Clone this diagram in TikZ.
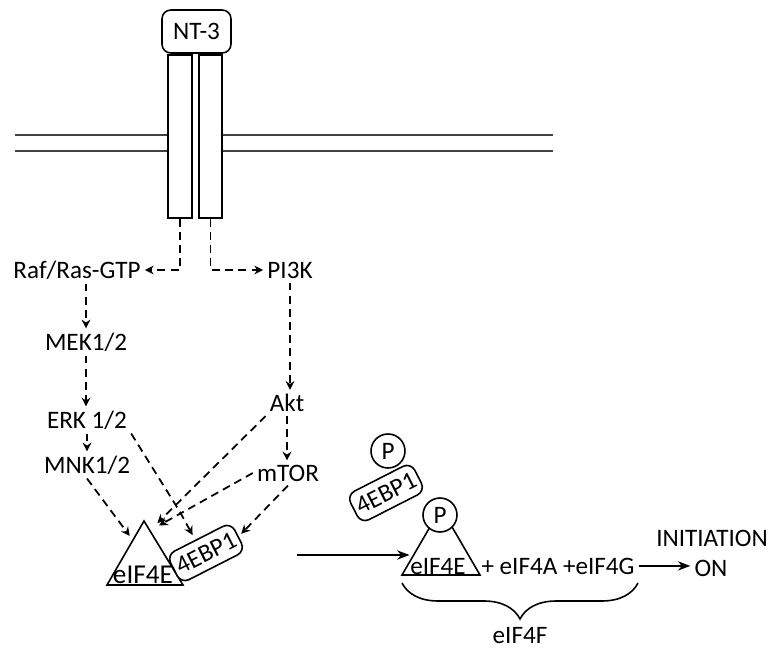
\documentclass[tikz,border=0pt]{standalone}
\usepackage{fontspec}
\setmainfont{Carlito}
\usetikzlibrary{arrows.meta, calc, positioning, decorations.pathreplacing}

\begin{document}
\begin{tikzpicture}[x=0.02cm, y=-0.02cm, line width=0.9pt,
    every node/.style={font=\fontsize{14.3}{17}\selectfont, inner sep=2pt},
    dasharrow/.style={line width=1pt, dash pattern=on 4.5pt off 3pt, -{Stealth[length=5pt,width=5pt]}},
    receptor/.style={draw, fill=white, minimum width=0.47cm, minimum height=3.26cm, inner sep=0pt},
    bpbox/.style={draw, fill=white, rounded corners=5pt, minimum width=1.44cm, minimum height=0.64cm, inner sep=0pt, rotate=27},
    pcircle/.style={draw, circle, fill=white, minimum size=0.68cm, inner sep=0pt}]
  \useasboundingbox (0,0) rectangle (773,648);

  % Membrane
  \draw[black!75] (15,135) -- (168,135) (222,135) -- (553,135);
  \draw[black!75] (15,151) -- (168,151) (222,151) -- (553,151);

  % Receptor and ligand
  \node[receptor] (recL) at (180,136.5) {};
  \node[receptor] (recR) at (210.5,136.5) {};
  \node[draw, fill=white, rounded corners=5pt, minimum width=1.38cm, minimum height=0.86cm] (nt3) at (196.5,31.5) {NT-3};

  % Signalling molecules
  \node (raf) at (77,270) {Raf/Ras-GTP};
  \node (pi3k) at (290,270) {PI3K};
  \node (mek) at (86,342) {MEK1/2};
  \node (erk) at (87,420) {ERK 1/2};
  \node (mnk) at (87,465) {MNK1/2};
  \node (akt) at (287,403) {Akt};
  \node (mtor) at (288,473) {mTOR};

  \draw[dasharrow] (recL.south) |- (raf.east);
  \draw[dasharrow] (recR.south) |- (pi3k.west);
  \draw[dasharrow] (raf.south -| mek.north) -- (mek.north);
  \draw[dasharrow] (mek.south) -- (mek.south |- erk.north);
  \draw[dasharrow] (erk.south) -- (mnk.north);
  \draw[dasharrow] (pi3k.south) -- (pi3k.south |- akt.north);
  \draw[dasharrow] (akt.south) -- (akt.south |- mtor.north);

  % Inactive complex
  \coordinate (apL) at (144,521);
  \coordinate (blL) at (107,585);
  \coordinate (brL) at (183,585);
  \draw (apL) -- (blL) -- (brL) -- cycle;
  \node[font=\fontsize{15.5}{18}\selectfont, anchor=base, inner sep=0pt] (e4L) at (143,583) {eIF4E};
  \node[bpbox] (bpL) at (206,553) {4EBP1};

  \coordinate (erkbend) at (180,512);
  \draw[dasharrow, shorten >=3pt] (mnk.south) -- ($(apL)!0.3!(blL)$);
  \draw[dasharrow, shorten >=3pt] (erk.south east) -- (erkbend) -- ($(bpL.north west)!0.45!(bpL.north east)$);
  \draw[dasharrow, shorten >=6pt] (akt.south west) -- ($(apL)!0.15!(brL)$);
  \draw[dasharrow, shorten >=6pt] (mtor.west) -- ($(apL)!0.15!(brL)$);
  \draw[dasharrow, shorten >=2pt] (mtor.south) -- (bpL.east);

  % Released 4EBP1
  \node[bpbox] (bpU) at (386,493) {4EBP1};
  \node[pcircle] (pU) at (388,451) {P};

  % Active complex
  \coordinate (apR) at (441,508);
  \coordinate (blR) at (402,575);
  \coordinate (brR) at (480,575);
  \draw (apR) -- (blR) -- (brR) -- cycle;
  \node[anchor=base, inner sep=0pt] (e4R) at (438,574) {eIF4E};
  \node[pcircle] (pR) at (440,515) {P};
  \node[anchor=base] (rest) at (558,574) {+ eIF4A +eIF4G};
  \node[anchor=base] (init) at (712,546) {INITIATION};
  \node[anchor=base] (on) at (711,576) {ON};

  \coordinate (relstart) at (297,555);
  \draw[-{Stealth}] (relstart) -- (relstart -| e4R.west);
  \draw[-{Stealth}] (rest.east) -- (rest.east -| on.west);

  % eIF4F
  \draw[decorate, decoration={brace, mirror, amplitude=0.72cm}] (402,583) -- (638,583);
  \node (e4F) at (520,636) {eIF4F};
\end{tikzpicture}
\end{document}
